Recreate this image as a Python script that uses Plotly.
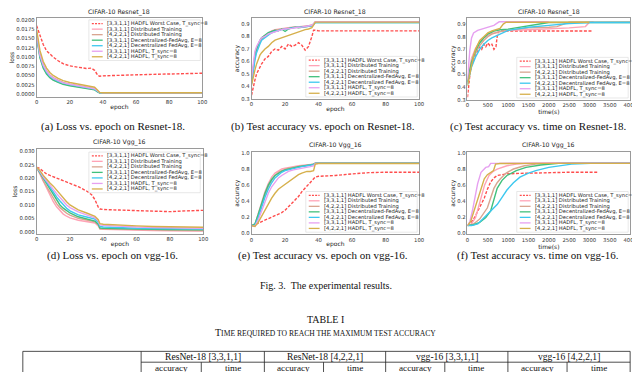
import plotly.graph_objects as go

W, H = 640, 372

LABELS_A = [
    "[3,3,1,1] HADFL Worst Case, T_sync=8",
    "[3,3,1,1] Distributed Training",
    "[4,2,2,1] Distributed Training",
    "[3,3,1,1] Decentralized-FedAvg, E=8",
    "[4,2,2,1] Decentralized FedAvg, E=8",
    "[3,3,1,1] HADFL, T_sync=8",
    "[4,2,2,1] HADFL, T_sync=8",
]
COLORS = ["#ff4d4d", "#ffa3b6", "#d9a590", "#40c07c", "#3dc8ef", "#e6a0f0", "#d6b04c"]
DASHES = ["3px,1.6px", "solid", "solid", "solid", "solid", "solid", "solid"]

# (a) loss vs epoch, Resnet-18
A_EPOCH = [0, 2, 4, 6, 8, 10, 13, 16, 20, 25, 30, 33, 35, 37, 38, 40, 50, 60, 70, 80, 90, 100]
A_WORST = [0.0185, 0.0158, 0.0134, 0.0117, 0.0107, 0.0100, 0.0090, 0.0082, 0.0076, 0.0072, 0.0069, 0.0070,
           0.0064, 0.0050, 0.0048, 0.0049, 0.0051, 0.0052, 0.0053, 0.0054, 0.0055, 0.0056]
A_DIST1 = [0.0160, 0.0100, 0.0072, 0.0055, 0.0045, 0.0038, 0.0032, 0.0027, 0.0023, 0.0019, 0.0015, 0.0013,
           0.0012, 0.0006, 0.0003, 0.0002, 0.0002, 0.0002, 0.0002, 0.0002, 0.0002, 0.0002]
A_DIST2 = [0.0165, 0.0108, 0.0079, 0.0062, 0.0051, 0.0044, 0.0037, 0.0031, 0.0026, 0.0022, 0.0018, 0.0016,
           0.0014, 0.0007, 0.0003, 0.0002, 0.0002, 0.0002, 0.0002, 0.0002, 0.0002, 0.0002]
A_FED1 = [0.0155, 0.0098, 0.0070, 0.0054, 0.0044, 0.0037, 0.0031, 0.0026, 0.0022, 0.0018, 0.0015, 0.0013,
          0.0011, 0.0005, 0.0003, 0.0003, 0.0003, 0.0003, 0.0003, 0.0003, 0.0003, 0.0003]
A_FED2 = [0.0158, 0.0104, 0.0076, 0.0059, 0.0048, 0.0041, 0.0034, 0.0029, 0.0025, 0.0021, 0.0017, 0.0015,
          0.0013, 0.0006, 0.0003, 0.0003, 0.0003, 0.0003, 0.0003, 0.0003, 0.0003, 0.0003]
A_HAD1 = [0.0165, 0.0106, 0.0078, 0.0061, 0.0050, 0.0043, 0.0036, 0.0030, 0.0026, 0.0022, 0.0018, 0.0016,
          0.0014, 0.0007, 0.0004, 0.0003, 0.0003, 0.0003, 0.0003, 0.0003, 0.0003, 0.0003]
A_HAD2 = [0.0175, 0.0118, 0.0088, 0.0070, 0.0058, 0.0050, 0.0042, 0.0036, 0.0031, 0.0026, 0.0022, 0.0020,
          0.0018, 0.0009, 0.0004, 0.0003, 0.0003, 0.0003, 0.0003, 0.0003, 0.0003, 0.0003]

# (b) accuracy vs epoch, Resnet-18
B_EPOCH = [0, 1, 2, 3, 4, 5, 6, 8, 10, 12, 14, 16, 18, 20, 22, 24, 26, 28, 30, 32, 34, 36, 37, 38, 40,
           50, 60, 70, 80, 90, 100]
B_WORST = [0.33, 0.40, 0.45, 0.50, 0.53, 0.55, 0.58, 0.62, 0.64, 0.68, 0.70, 0.69, 0.72, 0.70, 0.74, 0.72,
           0.73, 0.75, 0.73, 0.69, 0.72, 0.80, 0.85, 0.85, 0.845, 0.845, 0.846, 0.845, 0.846, 0.845, 0.845]
B_DIST1 = [0.45, 0.58, 0.66, 0.71, 0.74, 0.77, 0.79, 0.81, 0.83, 0.845, 0.855, 0.86, 0.865, 0.865, 0.87,
           0.875, 0.875, 0.88, 0.88, 0.88, 0.885, 0.89, 0.90, 0.917, 0.917, 0.917, 0.917, 0.917, 0.917, 0.917, 0.917]
B_DIST2 = [0.43, 0.55, 0.63, 0.69, 0.73, 0.76, 0.78, 0.80, 0.82, 0.835, 0.85, 0.855, 0.86, 0.865, 0.87,
           0.87, 0.875, 0.875, 0.88, 0.88, 0.885, 0.89, 0.90, 0.915, 0.916, 0.916, 0.916, 0.916, 0.916, 0.916, 0.916]
B_FED1 = [0.44, 0.56, 0.64, 0.70, 0.74, 0.77, 0.79, 0.81, 0.83, 0.84, 0.85, 0.845, 0.86, 0.84, 0.86,
          0.87, 0.875, 0.87, 0.875, 0.88, 0.88, 0.885, 0.90, 0.912, 0.912, 0.912, 0.912, 0.912, 0.912, 0.912, 0.912]
B_FED2 = [0.42, 0.53, 0.61, 0.67, 0.71, 0.74, 0.77, 0.79, 0.81, 0.83, 0.84, 0.85, 0.855, 0.86, 0.865,
          0.87, 0.87, 0.875, 0.875, 0.88, 0.88, 0.885, 0.895, 0.912, 0.912, 0.912, 0.912, 0.912, 0.912, 0.912, 0.912]
B_HAD1 = [0.47, 0.60, 0.68, 0.72, 0.75, 0.77, 0.79, 0.80, 0.82, 0.83, 0.84, 0.85, 0.855, 0.86, 0.86,
          0.865, 0.87, 0.87, 0.875, 0.88, 0.885, 0.89, 0.90, 0.918, 0.918, 0.918, 0.918, 0.918, 0.918, 0.918, 0.918]
B_HAD2 = [0.41, 0.48, 0.53, 0.58, 0.62, 0.65, 0.67, 0.70, 0.72, 0.75, 0.77, 0.78, 0.79, 0.80, 0.81,
          0.82, 0.83, 0.84, 0.85, 0.855, 0.86, 0.87, 0.89, 0.915, 0.915, 0.915, 0.915, 0.915, 0.915, 0.915, 0.915]

# (c) accuracy vs time, Resnet-18
C_WORST_T = [0, 30, 60, 100, 150, 200, 250, 300, 350, 400, 450, 500, 550, 600, 650, 700, 730, 760, 800,
             1000, 1500, 2000, 2500, 3050]
C_WORST = [0.32, 0.42, 0.50, 0.57, 0.62, 0.66, 0.69, 0.72, 0.70, 0.74, 0.72, 0.75, 0.73, 0.74, 0.70, 0.72,
           0.80, 0.84, 0.845, 0.845, 0.846, 0.845, 0.846, 0.845]
C_DIST1_T = [0, 50, 100, 200, 300, 400, 500, 600, 800, 1000, 1500, 2000, 2500, 2900, 3000, 3100]
C_DIST1 = [0.45, 0.56, 0.63, 0.71, 0.76, 0.79, 0.81, 0.825, 0.84, 0.85, 0.855, 0.86, 0.87, 0.88, 0.915, 0.917]
C_DIST2_T = [0, 50, 100, 200, 300, 400, 500, 600, 800, 1000, 1200, 1500, 2000, 2200, 2500, 3000, 4000]
C_DIST2 = [0.43, 0.52, 0.59, 0.67, 0.73, 0.77, 0.80, 0.82, 0.84, 0.85, 0.86, 0.87, 0.875, 0.88, 0.915,
           0.916, 0.916]
C_FED1_T = [0, 50, 100, 200, 300, 400, 500, 650, 800, 1000, 1200, 1400, 1600, 1800, 2000, 2500, 3000, 4000]
C_FED1 = [0.44, 0.53, 0.60, 0.69, 0.75, 0.79, 0.82, 0.845, 0.855, 0.86, 0.87, 0.88, 0.89, 0.90, 0.912,
          0.912, 0.912, 0.912]
C_FED2_T = [0, 50, 100, 200, 300, 400, 500, 600, 800, 1000, 1200, 1500, 2000, 2500, 3000, 4000]
C_FED2 = [0.42, 0.50, 0.56, 0.64, 0.70, 0.74, 0.77, 0.79, 0.82, 0.85, 0.86, 0.875, 0.89, 0.905, 0.912, 0.912]
C_HAD1_T = [0, 30, 60, 100, 150, 250, 350, 450, 550, 650, 720, 780, 1000, 1500, 2000]
C_HAD1 = [0.46, 0.60, 0.70, 0.79, 0.83, 0.85, 0.86, 0.87, 0.88, 0.89, 0.905, 0.918, 0.918, 0.918, 0.918]
C_HAD2_T = [0, 50, 100, 150, 200, 300, 400, 500, 600, 700, 800, 880, 950, 1500, 2000, 2500, 3000]
C_HAD2 = [0.41, 0.50, 0.58, 0.65, 0.70, 0.77, 0.80, 0.83, 0.845, 0.855, 0.865, 0.90, 0.915, 0.915, 0.915,
          0.915, 0.915]

# (d) loss vs epoch, vgg-16
D_EPOCH = [0, 2, 4, 6, 8, 10, 12, 14, 16, 18, 20, 25, 30, 33, 35, 37, 38, 40, 50, 60, 70, 80, 90, 100]
D_WORST = [0.0240, 0.0236, 0.0225, 0.0215, 0.0210, 0.0205, 0.0198, 0.0193, 0.0190, 0.0185, 0.0180, 0.0168,
           0.0152, 0.0138, 0.0120, 0.0092, 0.0085, 0.0083, 0.0081, 0.0079, 0.0076, 0.0075, 0.0078, 0.0080]
D_DIST1 = [0.0240, 0.0215, 0.0185, 0.0160, 0.0135, 0.0112, 0.0093, 0.0078, 0.0066, 0.0058, 0.0052, 0.0043,
           0.0038, 0.0035, 0.0033, 0.0022, 0.0010, 0.0009, 0.0007, 0.0006, 0.0005, 0.0004, 0.0004, 0.0003]
D_DIST2 = [0.0240, 0.0218, 0.0190, 0.0168, 0.0145, 0.0125, 0.0105, 0.0090, 0.0078, 0.0069, 0.0062, 0.0050,
           0.0044, 0.0040, 0.0037, 0.0026, 0.0012, 0.0011, 0.0009, 0.0008, 0.0007, 0.0006, 0.0006, 0.0005]
D_FED1 = [0.0240, 0.0220, 0.0195, 0.0175, 0.0155, 0.0135, 0.0115, 0.0100, 0.0088, 0.0078, 0.0070, 0.0056,
          0.0048, 0.0043, 0.0040, 0.0028, 0.0014, 0.0013, 0.0011, 0.0010, 0.0009, 0.0008, 0.0008, 0.0007]
D_FED2 = [0.0240, 0.0222, 0.0200, 0.0182, 0.0165, 0.0148, 0.0130, 0.0115, 0.0100, 0.0088, 0.0078, 0.0063,
          0.0055, 0.0050, 0.0047, 0.0035, 0.0020, 0.0018, 0.0015, 0.0013, 0.0012, 0.0011, 0.0010, 0.0010]
D_HAD1 = [0.0240, 0.0225, 0.0205, 0.0188, 0.0173, 0.0158, 0.0142, 0.0127, 0.0113, 0.0100, 0.0090, 0.0074,
          0.0063, 0.0056, 0.0052, 0.0040, 0.0026, 0.0024, 0.0020, 0.0018, 0.0016, 0.0015, 0.0014, 0.0013]
D_HAD2 = [0.0240, 0.0228, 0.0210, 0.0195, 0.0182, 0.0170, 0.0155, 0.0140, 0.0125, 0.0112, 0.0100, 0.0082,
          0.0070, 0.0062, 0.0058, 0.0045, 0.0030, 0.0028, 0.0024, 0.0022, 0.0020, 0.0019, 0.0018, 0.0017]

# (e) accuracy vs epoch, vgg-16
E_EPOCH = [0, 2, 4, 6, 8, 10, 12, 14, 16, 18, 20, 22, 25, 28, 30, 33, 35, 37, 38, 40, 50, 60, 70, 80, 90, 100]
E_WORST = [0.10, 0.11, 0.13, 0.15, 0.17, 0.19, 0.21, 0.22, 0.24, 0.26, 0.29, 0.33, 0.40, 0.46, 0.52, 0.59,
           0.64, 0.69, 0.70, 0.71, 0.72, 0.74, 0.755, 0.76, 0.76, 0.76]
E_DIST1 = [0.10, 0.11, 0.25, 0.40, 0.52, 0.62, 0.70, 0.75, 0.78, 0.80, 0.81, 0.82, 0.83, 0.84, 0.845, 0.85,
           0.855, 0.86, 0.875, 0.878, 0.878, 0.878, 0.878, 0.878, 0.878, 0.878]
E_DIST2 = [0.10, 0.10, 0.22, 0.36, 0.48, 0.58, 0.66, 0.72, 0.76, 0.78, 0.80, 0.81, 0.82, 0.83, 0.84, 0.845,
           0.85, 0.86, 0.872, 0.875, 0.875, 0.875, 0.875, 0.875, 0.875, 0.875]
E_FED1 = [0.10, 0.12, 0.24, 0.38, 0.50, 0.60, 0.67, 0.72, 0.75, 0.77, 0.79, 0.80, 0.82, 0.83, 0.835, 0.84,
          0.85, 0.86, 0.87, 0.872, 0.872, 0.872, 0.872, 0.872, 0.872, 0.872]
E_FED2 = [0.10, 0.10, 0.20, 0.33, 0.45, 0.55, 0.63, 0.69, 0.73, 0.76, 0.78, 0.79, 0.81, 0.82, 0.83, 0.84,
          0.845, 0.855, 0.87, 0.872, 0.872, 0.872, 0.872, 0.872, 0.872, 0.872]
E_HAD1 = [0.10, 0.09, 0.17, 0.28, 0.40, 0.50, 0.58, 0.64, 0.69, 0.72, 0.75, 0.77, 0.79, 0.80, 0.81, 0.82,
          0.83, 0.84, 0.865, 0.87, 0.87, 0.87, 0.87, 0.87, 0.87, 0.87]
E_HAD2 = [0.10, 0.09, 0.14, 0.22, 0.30, 0.37, 0.44, 0.50, 0.55, 0.58, 0.61, 0.64, 0.69, 0.73, 0.75, 0.77,
          0.77, 0.78, 0.86, 0.868, 0.868, 0.868, 0.868, 0.868, 0.868, 0.868]

# (f) accuracy vs time, vgg-16
F_WORST_T = [0, 80, 175, 250, 330, 413, 490, 570, 650, 730, 850, 970, 1200, 1500, 2000, 2500, 3190]
F_WORST = [0.10, 0.13, 0.20, 0.27, 0.35, 0.44, 0.55, 0.64, 0.69, 0.72, 0.73, 0.74, 0.745, 0.75, 0.755,
           0.76, 0.76]
F_DIST1_T = [0, 100, 200, 270, 333, 420, 530, 630, 730, 850, 970, 1200, 1440, 2000, 4000]
F_DIST1 = [0.10, 0.12, 0.20, 0.32, 0.44, 0.60, 0.72, 0.77, 0.80, 0.82, 0.84, 0.86, 0.87, 0.875, 0.875]
F_DIST2_T = [0, 150, 300, 400, 490, 570, 650, 730, 810, 950, 1130, 1400, 1680, 2200, 4000]
F_DIST2 = [0.10, 0.12, 0.18, 0.25, 0.32, 0.44, 0.56, 0.63, 0.68, 0.75, 0.80, 0.84, 0.86, 0.873, 0.873]
F_FED1_T = [0, 150, 300, 450, 570, 650, 730, 850, 970, 1200, 1440, 1800, 2240, 2600, 4000]
F_FED1 = [0.10, 0.11, 0.14, 0.20, 0.28, 0.42, 0.56, 0.66, 0.72, 0.78, 0.82, 0.85, 0.87, 0.872, 0.872]
F_FED2_T = [0, 100, 254, 370, 490, 610, 730, 850, 970, 1130, 1290, 1500, 1680, 2000, 2240, 2560, 3030, 4000]
F_FED2 = [0.10, 0.10, 0.12, 0.18, 0.24, 0.30, 0.36, 0.45, 0.54, 0.63, 0.70, 0.75, 0.78, 0.82, 0.84, 0.86,
          0.87, 0.87]
F_HAD1_T = [0, 60, 120, 175, 250, 333, 400, 450, 520, 570, 700, 1000, 2000, 3000, 4000]
F_HAD1 = [0.10, 0.15, 0.28, 0.44, 0.62, 0.76, 0.80, 0.82, 0.83, 0.87, 0.87, 0.872, 0.873, 0.873, 0.873]
F_HAD2_T = [0, 80, 160, 254, 330, 413, 490, 570, 640, 690, 800, 1500, 4000]
F_HAD2 = [0.10, 0.15, 0.28, 0.44, 0.57, 0.68, 0.73, 0.76, 0.78, 0.86, 0.868, 0.87, 0.87]

CAPTIONS = [
    "(a) Loss vs. epoch on Resnet-18.",
    "(b) Test accuracy vs. epoch on Resnet-18.",
    "(c) Test accuracy vs. time on Resnet-18.",
    "(d) Loss vs. epoch on vgg-16.",
    "(e) Test accuracy vs. epoch on vgg-16.",
    "(f) Test accuracy vs. time on vgg-16.",
]
TABLE_GROUPS = ["ResNet-18 [3,3,1,1]", "ResNet-18 [4,2,2,1]", "vgg-16 [3,3,1,1]", "vgg-16 [4,2,2,1]"]
TABLE_SUB = ["accuracy", "time"]

PANELS = [
    dict(title="CIFAR-10 Resnet_18", px=(27, 195), py=(8.5, 88), xr=[0, 100], yr=[-0.0008, 0.0205],
         dtick=0.0025, fmt=".4f", xdt=20, xlab="epoch", ylab="loss", leg=(80, 10), cap=(104, 118),
         series=[(A_EPOCH, s) for s in [A_WORST, A_DIST1, A_DIST2, A_FED1, A_FED2, A_HAD1, A_HAD2]]),
    dict(title="CIFAR-10 Resnet_18", px=(245, 415), py=(8.5, 90), xr=[0, 100], yr=[0.30, 0.945],
         dtick=0.1, fmt=".1f", xdt=20, xlab="epoch", ylab="accuracy", leg=(300, 47), cap=(317, 118),
         series=[(B_EPOCH, s) for s in [B_WORST, B_DIST1, B_DIST2, B_FED1, B_FED2, B_HAD1, B_HAD2]]),
    dict(title="CIFAR-10 Resnet_18", px=(464, 629), py=(8.5, 91), xr=[0, 4000], yr=[0.30, 0.945],
         dtick=0.1, fmt=".1f", xdt=500, xlab="time(s)", ylab="accuracy", leg=(514, 48), cap=(536, 118),
         series=[(C_WORST_T, C_WORST), (C_DIST1_T, C_DIST1), (C_DIST2_T, C_DIST2), (C_FED1_T, C_FED1),
                 (C_FED2_T, C_FED2), (C_HAD1_T, C_HAD1), (C_HAD2_T, C_HAD2)]),
    dict(title="CIFAR-10 Vgg_16", px=(27, 196), py=(141, 227), xr=[0, 100], yr=[-0.0008, 0.0308],
         dtick=0.005, fmt=".3f", xdt=20, xlab="epoch", ylab="loss", leg=(80, 144), cap=(104, 249),
         series=[(D_EPOCH, s) for s in [D_WORST, D_DIST1, D_DIST2, D_FED1, D_FED2, D_HAD1, D_HAD2]]),
    dict(title="CIFAR-10 Vgg_16", px=(245, 415), py=(144, 227.5), xr=[0, 100], yr=[-0.01, 1.01],
         dtick=0.2, fmt=".1f", xdt=20, xlab="epoch", ylab="accuracy", leg=(300, 184), cap=(317, 249),
         series=[(E_EPOCH, s) for s in [E_WORST, E_DIST1, E_DIST2, E_FED1, E_FED2, E_HAD1, E_HAD2]]),
    dict(title="CIFAR-10 Vgg_16", px=(464, 629), py=(144, 227.5), xr=[0, 4000], yr=[-0.01, 1.01],
         dtick=0.2, fmt=".1f", xdt=500, xlab="time(s)", ylab="accuracy", leg=(514, 184), cap=(536, 249),
         series=[(F_WORST_T, F_WORST), (F_DIST1_T, F_DIST1), (F_DIST2_T, F_DIST2), (F_FED1_T, F_FED1),
                 (F_FED2_T, F_FED2), (F_HAD1_T, F_HAD1), (F_HAD2_T, F_HAD2)]),
]


def fx(px):
    return px / W


def fy(py):
    return 1 - py / H


SANS = "DejaVu Sans"
SERIF = "Liberation Serif, Times New Roman, serif"
FRAME = "#9a9a9a"
LEG_W, ROW_H = 113, 5.6

fig = go.Figure()
shapes = []
annotations = []
layout = {}

for i, p in enumerate(PANELS):
    s = "" if i == 0 else str(i + 1)
    for k, (xs, ys) in enumerate(p["series"]):
        fig.add_trace(go.Scatter(
            x=xs, y=ys, mode="lines", showlegend=False, hoverinfo="skip",
            line=dict(color=COLORS[k], width=1.4, dash=DASHES[k]),
            xaxis="x" + s, yaxis="y" + s,
        ))

    layout["xaxis" + s] = dict(
        domain=[fx(p["px"][0]), fx(p["px"][1])], range=p["xr"], anchor="y" + s,
        showline=True, mirror=True, linecolor=FRAME, linewidth=0.7,
        showgrid=False, zeroline=False, ticks="", dtick=p["xdt"], tick0=0,
        tickfont=dict(size=5.3, color="#333333"),
        title=dict(text=p["xlab"], font=dict(size=6, color="#222222"), standoff=0),
    )
    layout["yaxis" + s] = dict(
        domain=[fy(p["py"][1]), fy(p["py"][0])], range=p["yr"], anchor="x" + s,
        showline=True, mirror=True, linecolor=FRAME, linewidth=0.7,
        showgrid=False, zeroline=False, ticks="", dtick=p["dtick"], tick0=0,
        tickformat=p["fmt"], tickfont=dict(size=5.3, color="#333333"),
        title=dict(text=p["ylab"], font=dict(size=6, color="#222222"), standoff=1),
    )

    # subplot title
    annotations.append(dict(
        text=p["title"], x=fx((p["px"][0] + p["px"][1]) / 2), y=fy(p["py"][0] - 0.8),
        xref="paper", yref="paper", xanchor="center", yanchor="bottom", showarrow=False,
        font=dict(family=SANS, size=6.2, color="#222222"),
    ))

    # legend box drawn inside the axes
    lx, ly = p["leg"]
    shapes.append(dict(
        type="rect", xref="paper", yref="paper", layer="above",
        x0=fx(lx), x1=fx(lx + LEG_W), y0=fy(ly + 2 + 7 * ROW_H), y1=fy(ly),
        fillcolor="rgba(255,255,255,0.85)", line=dict(color="#d8d8d8", width=0.6),
    ))
    for k, lab in enumerate(LABELS_A):
        cy = ly + 1 + ROW_H * (k + 0.5)
        shapes.append(dict(
            type="line", xref="paper", yref="paper", layer="above",
            x0=fx(lx + 3), x1=fx(lx + 14), y0=fy(cy), y1=fy(cy),
            line=dict(color=COLORS[k], width=1.3, dash="2px,1.2px" if k == 0 else "solid"),
        ))
        annotations.append(dict(
            text=lab, x=fx(lx + 16), y=fy(cy), xref="paper", yref="paper",
            xanchor="left", yanchor="middle", showarrow=False,
            font=dict(family=SANS, size=5.2, color="#222222"),
        ))

    # caption below the panel
    annotations.append(dict(
        text=CAPTIONS[i], x=fx(p["cap"][0]), y=fy(p["cap"][1]), xref="paper", yref="paper",
        xanchor="center", yanchor="middle", showarrow=False,
        font=dict(family=SERIF, size=11, color="#111111"),
    ))

# figure caption and table header
for text, cy, size in [
    ("Fig. 3.  The experimental results.", 279, 10),
    ("TABLE I", 314, 10),
    ("T<span style='font-size:7.6px'>IME REQUIRED TO REACH THE MAXIMUM TEST ACCURACY</span>", 327, 10),
]:
    annotations.append(dict(
        text=text, x=fx(320), y=fy(cy), xref="paper", yref="paper",
        xanchor="center", yanchor="middle", showarrow=False,
        font=dict(family=SERIF, size=size, color="#111111"),
    ))

T_TOP, T_MID, T_BOT = 346, 357, 380
col_edges = [133, 258, 381, 505, 629]
sub_edges = [194, 318, 441, 565]
tline = dict(color="#222222", width=0.8)
shapes.append(dict(type="line", xref="paper", yref="paper", x0=fx(13), x1=fx(629),
                   y0=fy(T_TOP), y1=fy(T_TOP), line=tline))
shapes.append(dict(type="line", xref="paper", yref="paper", x0=fx(133), x1=fx(629),
                   y0=fy(T_MID), y1=fy(T_MID), line=tline))
for xe in [13] + col_edges:
    shapes.append(dict(type="line", xref="paper", yref="paper", x0=fx(xe), x1=fx(xe),
                       y0=fy(T_TOP), y1=fy(T_BOT), line=tline))
for xe in sub_edges:
    shapes.append(dict(type="line", xref="paper", yref="paper", x0=fx(xe), x1=fx(xe),
                       y0=fy(T_MID), y1=fy(T_BOT), line=tline))
for g, name in enumerate(TABLE_GROUPS):
    annotations.append(dict(
        text=name, x=fx((col_edges[g] + col_edges[g + 1]) / 2), y=fy(351.5), xref="paper", yref="paper",
        xanchor="center", yanchor="middle", showarrow=False, borderpad=0,
        font=dict(family=SERIF, size=9.6, color="#111111"),
    ))
    bounds = [col_edges[g], sub_edges[g], col_edges[g + 1]]
    for j, sub in enumerate(TABLE_SUB):
        annotations.append(dict(
            text=sub, x=fx((bounds[j] + bounds[j + 1]) / 2), y=fy(362.5), xref="paper", yref="paper",
            xanchor="center", yanchor="middle", showarrow=False, borderpad=0,
            font=dict(family=SERIF, size=9.2, color="#111111"),
        ))

fig.update_layout(
    width=W, height=H,
    margin=dict(l=0, r=0, t=0, b=0),
    paper_bgcolor="white",
    plot_bgcolor="white",
    font=dict(family=SANS, color="#222222"),
    shapes=shapes,
    annotations=annotations,
    **layout,
)

fig.write_html("out.html")
